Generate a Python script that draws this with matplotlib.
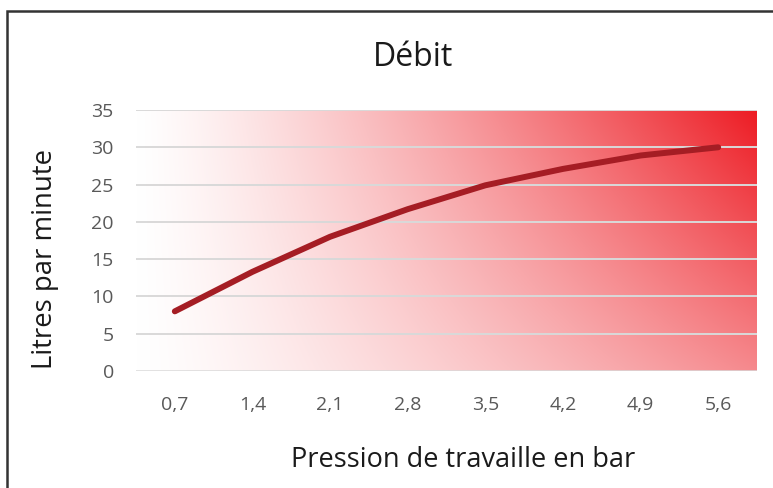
import numpy as np
import matplotlib
matplotlib.use("Agg")
import matplotlib.pyplot as plt
from matplotlib.patches import Rectangle
from matplotlib.colors import to_rgb

categories = ["0,7", "1,4", "2,1", "2,8", "3,5", "4,2", "4,9", "5,6"]
debit = [8.0, 13.3, 18.0, 21.7, 24.9, 27.1, 28.9, 30.0]
yticks = [0, 5, 10, 15, 20, 25, 30, 35]

plt.rcParams['font.family'] = ['Open Sans', 'DejaVu Sans']

W, H = 773, 488
fig = plt.figure(figsize=(W / 100, H / 100), dpi=100)
fig.patch.set_facecolor("white")

ax = fig.add_axes([136 / W, 1 - 371 / H, (757 - 136) / W, (371 - 110) / H])

# gradient background
nx, ny = 400, 200
u = np.linspace(0, 1, nx)[None, :]
v = np.linspace(0, 1, ny)[:, None]
t = (u ** 1.25) * (0.52 + 0.48 * v)
red = np.array(to_rgb("#ED1C24"))
img = np.ones((ny, nx, 3)) * (1 - t[..., None]) + red[None, None, :] * t[..., None]
ax.imshow(img, extent=(-0.5, 7.5, 0, 35), origin="lower", aspect="auto", zorder=0)

x = np.arange(len(categories))
ax.set_xlim(-0.5, 7.5)
ax.set_ylim(0, 35)
ax.set_yticks(yticks)
ax.set_xticks(x)
ax.set_xticklabels(categories)
for yv in yticks[1:]:
    ax.axhline(yv, color="#d9d9d9", lw=1.4, zorder=1)
ax.axhline(0, color="#d9d9d9", lw=1.8, zorder=1)

ax.plot(x, debit, color="#A51D24", lw=4.3, solid_capstyle="round",
        solid_joinstyle="round", zorder=3)

for s in ax.spines.values():
    s.set_visible(False)
ax.tick_params(axis="both", length=0, labelsize=14, colors="#595959")
ax.tick_params(axis="y", pad=16)
ax.tick_params(axis="x", pad=18)

fig.text(413 / W, 1 - 66 / H, "Débit", ha="center", va="baseline",
         fontsize=23, color="#1a1a1a")
fig.text(463 / W, 1 - 467 / H, "Pression de travaille en bar", ha="center",
         va="baseline", fontsize=19.5, color="#1a1a1a")
fig.text(45 / W, 1 - 259 / H, "Litres par minute", ha="center", va="center",
         rotation=90, fontsize=19.8, color="#1a1a1a")

fig.patches.append(Rectangle((7 / W, -0.1), 1.2, 1 - 11 / H + 0.1,
                             transform=fig.transFigure, fill=False,
                             edgecolor="#333333", lw=1.8, clip_on=False))

fig.savefig("out.png", dpi=100)
